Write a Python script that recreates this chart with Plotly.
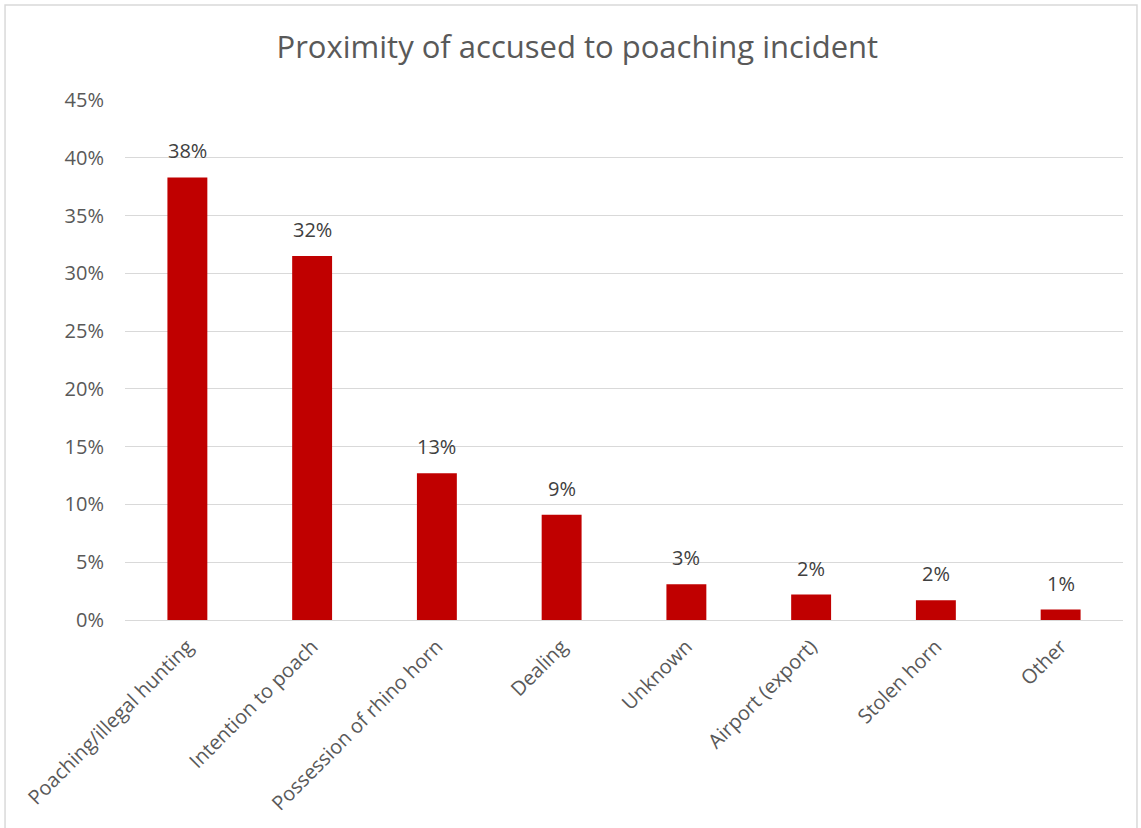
import plotly.graph_objects as go

categories = ["Poaching/illegal hunting", "Intention to poach", "Possession of rhino horn",
              "Dealing", "Unknown", "Airport (export)", "Stolen horn", "Other"]
values = [0.383, 0.315, 0.127, 0.091, 0.031, 0.022, 0.017, 0.009]
labels = ["38%", "32%", "13%", "9%", "3%", "2%", "2%", "1%"]
y_ticks = [0, 0.05, 0.10, 0.15, 0.20, 0.25, 0.30, 0.35, 0.40, 0.45]

FONT = "Open Sans"

fig = go.Figure(go.Bar(
    x=categories, y=values,
    marker=dict(color="#C00000", line=dict(width=0)),
    width=0.32,
))

annotations = [
    dict(x=c, y=v, xref="x", yref="y", text=t, showarrow=False,
         yanchor="bottom", yshift=11,
         font=dict(family=FONT, size=20, color="#404040"))
    for c, v, t in zip(categories, values, labels)
]

fig.update_layout(
    width=1141, height=828,
    margin=dict(l=125, r=18, t=100, b=208),
    paper_bgcolor="white", plot_bgcolor="white",
    showlegend=False,
    title=dict(text="Proximity of accused to poaching incident",
               font=dict(family=FONT, size=31, color="#595959"),
               x=0.506, xref="container", xanchor="center",
               y=0.943, yref="container", yanchor="middle"),
    font=dict(family=FONT, color="#595959"),
    yaxis=dict(range=[0, 0.45], tickvals=y_ticks, tickformat=".0%",
               showgrid=True, gridcolor="#D9D9D9", gridwidth=1,
               zeroline=True, zerolinecolor="#D9D9D9", zerolinewidth=1,
               showline=False, ticks="", ticklen=0, ticklabelstandoff=20,
               tickfont=dict(family=FONT, size=20, color="#595959")),
    xaxis=dict(tickangle=-45, showgrid=False, showline=False, ticks="",
               ticklabelstandoff=10,
               tickfont=dict(family=FONT, size=20, color="#595959")),
    annotations=annotations,
    shapes=[dict(type="rect", xref="paper", yref="paper",
                 x0=-0.1202, x1=1.014, y0=-0.4038, y1=1.1827,
                 line=dict(color="#D9D9D9", width=1.5), fillcolor="rgba(0,0,0,0)",
                 layer="below")],
)

fig.write_html("out.html")
